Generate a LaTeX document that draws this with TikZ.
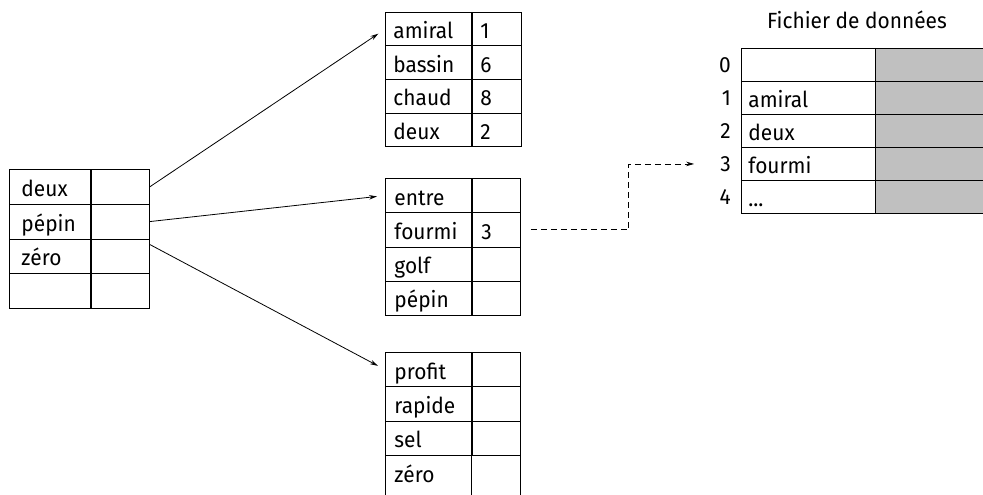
\documentclass[tikz,border=0pt]{standalone}
\usepackage{fontspec}
\setmainfont[FakeStretch=0.95]{Fira Sans}
\usetikzlibrary{arrows.meta}
\definecolor{cellgray}{RGB}{192,192,192}
\newcommand\cellpair[9]{%
  \pgfmathsetmacro\twa{#4-2*#7}%
  \node[cell, minimum height=#6pt, inner xsep=#7pt, text width=\twa pt] (#1a) at (#2,#3) {#8};%
  \pgfmathsetmacro\twb{#5-2*#7}%
  \node[cell, minimum height=#6pt, inner xsep=#7pt, text width=\twb pt] (#1b) at (#1a.north east) {#9};%
}
\begin{document}
\begin{tikzpicture}[x=1pt,y=-1pt,
  font=\fontsize{22}{24}\selectfont,
  cell/.style={draw, line width=0.9pt, anchor=north west, inner ysep=0pt,
    text height=21pt, text depth=2pt, align=left},
  link/.style={line width=0.8pt, -{Stealth[length=8pt,width=4.5pt]}, shorten >=8pt},
  dlink/.style={line width=0.8pt, dash pattern=on 6pt off 4pt, -{Stealth[length=8pt,width=4.5pt]}},
  idx/.style={anchor=east, inner sep=0pt}]
\useasboundingbox (0,0) rectangle (983,495);
\clip (0,0) rectangle (983,495);
% left table
\cellpair{L1}{9}{169}{81}{58}{34.75}{12}{deux}{}
\cellpair{L2}{9}{203.75}{81}{58}{34.75}{12}{pépin}{}
\cellpair{L3}{9}{238.5}{81}{58}{34.75}{12}{zéro}{}
\cellpair{L4}{9}{273.25}{81}{58}{34.75}{12}{}{}
% top table
\cellpair{T1}{385}{12}{86}{49}{33.5}{8}{amiral}{1}
\cellpair{T2}{385}{45.5}{86}{49}{33.5}{8}{bassin}{6}
\cellpair{T3}{385}{79}{86}{49}{33.5}{8}{chaud}{8}
\cellpair{T4}{385}{112.5}{86}{49}{33.5}{8}{deux}{2}
% middle table
\cellpair{M1}{385}{178}{86}{48}{34.25}{9}{entre}{}
\cellpair{M2}{385}{212.25}{86}{48}{34.25}{9}{fourmi}{3}
\cellpair{M3}{385}{246.5}{86}{48}{34.25}{9}{golf}{}
\cellpair{M4}{385}{280.75}{86}{48}{34.25}{9}{pépin}{}
% bottom table
\cellpair{B1}{385}{352}{86}{48}{34.3}{9}{profit}{}
\cellpair{B2}{385}{386.3}{86}{48}{34.3}{9}{rapide}{}
\cellpair{B3}{385}{420.6}{86}{48}{34.3}{9}{sel}{}
\node[cell, draw=none, minimum height=34.3pt, inner xsep=9pt, text width=68pt] (B4a) at (385,454.9) {zéro};
\node[cell, draw=none, minimum height=34.3pt, inner xsep=9pt, text width=30pt] (B4b) at (B4a.north east) {};
\draw[line width=0.9pt] (B4a.north west) -- ++(0,45) (B4a.north east) -- ++(0,45) (B4b.north east) -- ++(0,45);
% data file
\node (title) at (857,20) {Fichier de données};
\cellpair{R0}{741}{48}{134}{140}{33}{7}{}{}
\cellpair{R1}{741}{81}{134}{140}{33}{7}{amiral}{}
\cellpair{R2}{741}{114}{134}{140}{33}{7}{deux}{}
\cellpair{R3}{741}{147}{134}{140}{33}{7}{fourmi}{}
\cellpair{R4}{741}{180}{134}{140}{33}{7}{...}{}
\foreach \r in {R0,R1,R2,R3,R4}{\fill[cellgray] (\r b.north west) rectangle (\r b.south east);
  \draw[line width=0.9pt] (\r b.north west) -- (\r b.north east) (\r b.south west) -- (\r b.south east) (\r b.north west) -- (\r b.south west);}
\node[idx] (R0n) at ([xshift=-10pt]R0a.west) {0};
\node[idx] (R1n) at ([xshift=-10pt]R1a.west) {1};
\node[idx] (R2n) at ([xshift=-10pt]R2a.west) {2};
\node[idx] (R3n) at ([xshift=-10pt]R3a.west) {3};
\node[idx] (R4n) at ([xshift=-10pt]R4a.west) {4};
% connectors
\draw[link] (L1b.east) -- (T1a.west);
\draw[link] (L2b.east) -- (M1a.west);
\draw[link] ([yshift=-6pt]L3b.north east) -- (B1a.west);
\draw[dlink, shorten >=26pt] ([xshift=10pt]M2b.east) -- ++(98,0) |- (R3n.west);
\end{tikzpicture}
\end{document}
